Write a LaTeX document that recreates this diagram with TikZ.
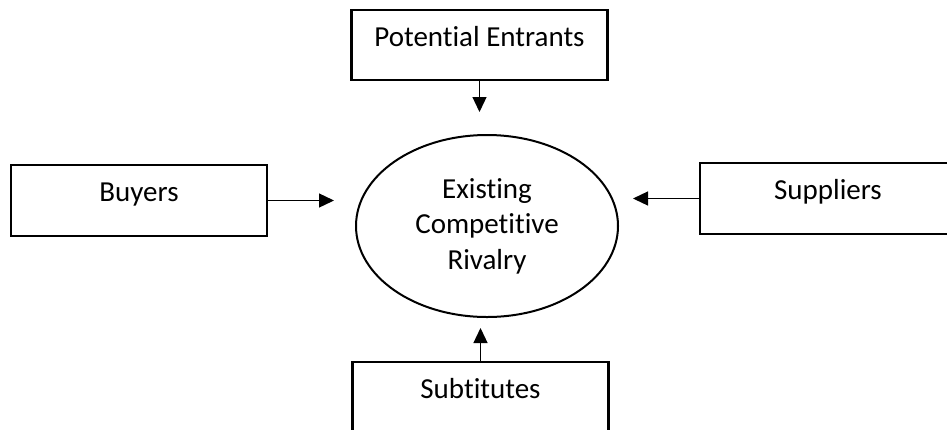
\documentclass[tikz,border=0pt]{standalone}
\usepackage{fontspec}
\setmainfont{Carlito}[Ligatures=NoCommon]
\usetikzlibrary{shapes.geometric,arrows.meta}
\begin{document}
\begin{tikzpicture}[x=1pt,y=-1pt,
  force/.style={draw=black, line width=2.4pt, rectangle, minimum width=256pt,
    inner xsep=0pt, inner ysep=0pt, text height=36.5pt, text depth=34pt,
    font=\fontsize{29}{35.5}\selectfont},
  core/.style={draw=black, line width=2pt, ellipse, minimum width=262pt,
    minimum height=182pt, inner sep=0pt, align=center,
    font=\fontsize{29}{35.5}\selectfont},
  arr/.style={draw=black, line width=1.3pt, -{Triangle[length=15pt,width=14pt]}}]
  \useasboundingbox (0,0) rectangle (947,429);

  \node[core] (rival) at (487,226) {Existing\\Competitive\\Rivalry};

  \node[force] (pe)  at (479.5,45)  {Potential Entrants};
  \node[force] (buy) at (139,200.5) {Buyers};
  \node[force] (sup) at (828,198.5) {Suppliers};
  \node[force] (sub) at (480.5,397) {Subtitutes};

  \draw[arr, shorten >=22pt] (pe.south)  -- (pe.south |- rival.north);
  \draw[arr, shorten >=21pt] (buy.east)  -- (buy.east -| rival.west);
  \draw[arr, shorten >=14pt] (sup.west)  -- (sup.west -| rival.east);
  \draw[arr, shorten >=10pt] (sub.north) -- (sub.north |- rival.south);
\end{tikzpicture}
\end{document}
